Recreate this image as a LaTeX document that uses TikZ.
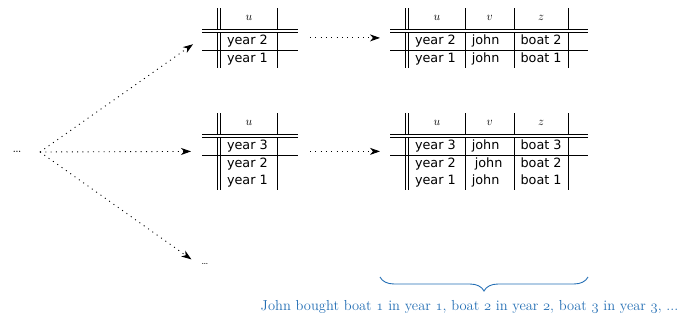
\documentclass[tikz,border=0pt]{standalone}
\usepackage{amsmath,amssymb}
\usepackage{fontspec}
\usepackage{array}
\newfontfamily\tabfont{DejaVu Sans}
\usetikzlibrary{positioning,arrows.meta,decorations.pathreplacing}

\definecolor{capblue}{RGB}{35,110,180}
\setlength{\tabcolsep}{6pt}
\setlength{\arrayrulewidth}{0.8pt}
\setlength{\doublerulesep}{2.2pt}
\renewcommand{\arraystretch}{1.1}
\newcommand{\osf}[1]{{\usefont{OML}{cmm}{m}{it}#1}}
\newcommand{\hd}[1]{\makebox[\linewidth]{$#1$}}

\begin{document}
\begin{tikzpicture}[x=1pt, y=-1pt,
    tbl/.style={inner sep=0pt, anchor=north west, font=\tabfont\fontsize{12.8}{15.4}\selectfont},
    flow/.style={line width=0.9pt, dash pattern=on 1pt off 4.3pt,
        -{Stealth[length=10pt, width=7pt, inset=3pt]}}]

\useasboundingbox (0,0) rectangle (691,320);

% --- Tables ---
\node[tbl] (tabA) at (202,8) {%
\begin{tabular}{@{\hspace{15pt}}||p{44pt}|@{\hspace{20pt}}}
\hd{u}\\[4pt]
\hline\hline
year 2\\ \hline
year 1
\end{tabular}};

\node[tbl] (tabB) at (390,8) {%
\begin{tabular}{@{\hspace{15pt}}||p{44pt}|p{36pt}|p{41pt}|@{\hspace{20pt}}}
\hd{u} & \hd{v} & \hd{z}\\[4pt]
\hline\hline
year 2 & john & boat 2\\ \hline
year 1 & john & boat 1
\end{tabular}};

\node[tbl] (tabC) at (202,113) {%
\begin{tabular}{@{\hspace{15pt}}||p{44pt}|@{\hspace{20pt}}}
\hd{u}\\[4pt]
\hline\hline
year 3\\ \hline
year 2\\
year 1
\end{tabular}};

\node[tbl] (tabD) at (390,113) {%
\begin{tabular}{@{\hspace{15pt}}||p{44pt}|p{36pt}|p{41pt}|@{\hspace{20pt}}}
\hd{u} & \hd{v} & \hd{z}\\[4pt]
\hline\hline
year 3 & john & boat 3\\ \hline
year 2 & \hspace*{3pt}john\hspace*{-3pt} & boat 2\\
year 1 & john & boat 1
\end{tabular}};

% --- Branches ---
\node[font=\fontsize{16}{18}\selectfont] (dotsA) at (17,152) {\ldots};
\coordinate (o) at (40,152);
\node[font=\fontsize{11}{13}\selectfont] (dotsB) at (205,264) {\ldots};

\foreach \t in {tabA, tabC}
    \draw[flow, shorten >=11pt] (o) -- (\t.west);
\draw[flow, shorten >=8pt] (o) -- (dotsB.west);

\draw[flow, shorten <=12pt, shorten >=10pt] (tabA.east) -- (tabB.west);
\draw[flow, shorten <=12pt, shorten >=10pt] (tabC.east) -- (tabD.west);

% --- Brace and caption ---
\coordinate (brL) at (380,277);
\coordinate (brR) at (588,277);
\draw[capblue, line width=0.9pt, decorate,
    decoration={brace, mirror, amplitude=14pt}] (brL) -- (brR);
\node[capblue, anchor=base, font=\fontsize{14.5}{17}\selectfont] (caption) at (469.5,311)
    {John bought boat \osf{1} in year \osf{1}, boat \osf{2} in year \osf{2}, boat \osf{3} in year \osf{3}, ...};

\end{tikzpicture}
\end{document}
